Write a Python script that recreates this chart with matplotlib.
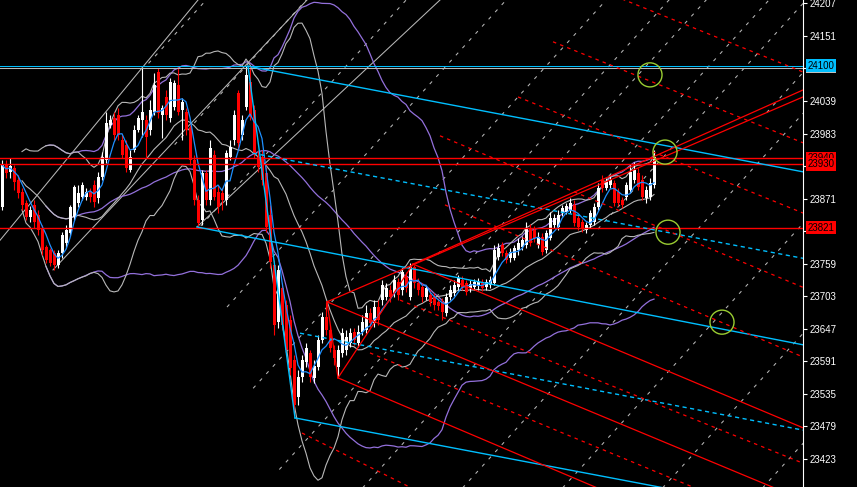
import numpy as np
import pandas as pd
import matplotlib
matplotlib.use("Agg")
import matplotlib.pyplot as plt
from matplotlib.patches import Rectangle
from matplotlib.transforms import blended_transform_factory

# ---------------- candle data (one bar every 4 px) ----------------
opens = [
    23856, 23929, 23917, 23923, 23903, 23882, 23863, 23839, 23860, 23843,
    23820, 23787, 23782, 23777, 23756, 23777, 23794, 23812, 23839, 23863,
    23874, 23874, 23882, 23894, 23872, 23908, 23937, 23998, 24010, 24015,
    23972, 23963, 23920, 23955, 23989, 24006, 24006, 23989, 24020, 24089,
    24015, 24046, 24010, 24029, 24067, 24024, 24020, 23992, 23937, 23868,
    23834, 23915, 23868, 23946, 23882, 23880, 23868, 23943, 23972, 24053,
    23980, 24029, 24072, 24024, 23943, 23943, 23915, 23843, 23756, 23658,
    23717, 23688, 23662, 23593, 23529, 23563, 23589, 23605, 23562, 23581,
    23627, 23667, 23644, 23610, 23581, 23605, 23610, 23622, 23641, 23622,
    23641, 23644, 23674, 23657, 23684, 23696, 23701, 23713, 23708, 23727,
    23713, 23736, 23701, 23753, 23725, 23719, 23701, 23705, 23701, 23693,
    23693, 23674, 23701, 23708, 23719, 23731, 23725, 23717, 23719, 23720,
    23727, 23719, 23722, 23725, 23770, 23791, 23777, 23768, 23768, 23782,
    23787, 23791, 23820, 23817, 23791, 23805, 23782, 23803, 23825, 23822,
    23846, 23848, 23851, 23860, 23837, 23831, 23817, 23825, 23831, 23856,
    23903, 23889, 23894, 23898, 23882, 23868, 23874, 23886, 23903, 23915,
    23903, 23872, 23874, 23894,
]
closes = [
    23929, 23915, 23927, 23899, 23880, 23860, 23839, 23851, 23831, 23817,
    23782, 23765, 23760, 23756, 23777, 23808, 23817, 23856, 23891, 23880,
    23894, 23882, 23874, 23865, 23908, 23943, 24001, 24006, 23980, 23980,
    23946, 23924, 23943, 23989, 24010, 24020, 23977, 24024, 24067, 24018,
    24027, 24015, 24072, 24070, 24020, 24037, 23989, 23937, 23868, 23829,
    23915, 23868, 23958, 23874, 23856, 23868, 23949, 23960, 24015, 23967,
    24006, 24084, 24011, 23949, 23925, 23903, 23822, 23762, 23653, 23748,
    23653, 23610, 23579, 23515, 23563, 23593, 23613, 23563, 23582, 23627,
    23667, 23644, 23613, 23596, 23610, 23639, 23632, 23639, 23627, 23641,
    23658, 23674, 23657, 23684, 23662, 23722, 23717, 23701, 23731, 23705,
    23744, 23717, 23753, 23725, 23713, 23701, 23717, 23693, 23688, 23686,
    23675, 23701, 23713, 23722, 23734, 23719, 23710, 23724, 23727, 23727,
    23717, 23727, 23731, 23782, 23786, 23777, 23765, 23779, 23786, 23794,
    23800, 23820, 23794, 23803, 23805, 23779, 23812, 23837, 23837, 23843,
    23855, 23858, 23863, 23829, 23822, 23820, 23825, 23846, 23856, 23889,
    23889, 23899, 23903, 23863, 23863, 23860, 23894, 23917, 23920, 23891,
    23874, 23886, 23898, 23943,
]
highs = [
    23937, 23937, 23941, 23929, 23911, 23889, 23868, 23858, 23868, 23851,
    23825, 23791, 23786, 23782, 23782, 23813, 23825, 23860, 23894, 23894,
    23899, 23889, 23889, 23903, 23917, 23951, 24020, 24015, 24020, 24027,
    23980, 23972, 23955, 23998, 24015, 24096, 24015, 24041, 24087, 24096,
    24032, 24058, 24079, 24075, 24098, 24044, 24027, 23998, 23946, 23877,
    23920, 23920, 23972, 23955, 23894, 23889, 23955, 23972, 24024, 24058,
    24015, 24099, 24099, 24032, 23955, 23955, 23925, 23860, 23765, 23756,
    23725, 23696, 23670, 23601, 23576, 23601, 23622, 23610, 23593, 23636,
    23675, 23693, 23653, 23619, 23619, 23648, 23644, 23648, 23648, 23653,
    23670, 23688, 23682, 23696, 23696, 23731, 23725, 23722, 23739, 23734,
    23751, 23744, 23760, 23756, 23734, 23725, 23722, 23713, 23708, 23700,
    23700, 23708, 23722, 23731, 23739, 23737, 23731, 23731, 23732, 23734,
    23732, 23732, 23737, 23791, 23794, 23796, 23782, 23786, 23791, 23803,
    23806, 23831, 23827, 23824, 23813, 23812, 23817, 23848, 23844, 23851,
    23860, 23863, 23872, 23868, 23844, 23836, 23831, 23851, 23863, 23898,
    23911, 23906, 23910, 23903, 23889, 23874, 23899, 23929, 23934, 23924,
    23911, 23893, 23906, 23955,
]
lows = [
    23851, 23906, 23906, 23886, 23872, 23851, 23834, 23831, 23820, 23808,
    23774, 23760, 23755, 23748, 23751, 23768, 23786, 23806, 23834, 23856,
    23868, 23868, 23865, 23856, 23863, 23903, 23932, 23992, 23972, 23972,
    23941, 23917, 23917, 23951, 23986, 23977, 23943, 23980, 24015, 24010,
    23975, 24006, 24003, 24024, 24015, 23972, 23980, 23929, 23860, 23820,
    23825, 23860, 23860, 23868, 23846, 23851, 23860, 23937, 23963, 23955,
    23972, 24024, 24006, 23941, 23917, 23894, 23813, 23751, 23636, 23648,
    23644, 23601, 23567, 23503, 23515, 23555, 23581, 23555, 23553, 23576,
    23622, 23636, 23607, 23584, 23563, 23598, 23601, 23615, 23619, 23615,
    23636, 23639, 23650, 23650, 23653, 23688, 23696, 23693, 23701, 23696,
    23705, 23710, 23696, 23717, 23705, 23693, 23696, 23686, 23679, 23679,
    23662, 23669, 23696, 23703, 23713, 23713, 23705, 23710, 23713, 23713,
    23712, 23713, 23717, 23722, 23765, 23772, 23760, 23762, 23765, 23774,
    23782, 23786, 23789, 23796, 23786, 23774, 23777, 23800, 23820, 23817,
    23841, 23844, 23846, 23824, 23817, 23813, 23812, 23820, 23825, 23851,
    23882, 23886, 23889, 23858, 23858, 23855, 23868, 23880, 23898, 23886,
    23868, 23863, 23868, 23889,
]

# ---------------- price scale ----------------
price_ticks = [24207, 24151, 24095, 24039, 23983, 23927, 23871, 23815,
               23759, 23703, 23647, 23591, 23535, 23479, 23423]
hidden_ticks = [24095, 23927, 23815]   # covered by the level labels
y_range = (23374, 24213)
x_range = (-0.5, 200.25)

# horizontal levels
cyan_level = 24100
grey_level = 24096
red_levels = [23940, 23930, 23821]
red_level_text = ['23940', '23930', '23821']

# ---------------- objects: (bar, price) anchors ----------------
cyan_solid = [((61.5, 24099), (200.25, 23917)),
              ((48.75, 23822), (200.25, 23619)),
              ((73.25, 23493), (200.25, 23327)),
              ((61.5, 24099), (73.25, 23493))]
cyan_dash = [((62.75, 23949), (200.25, 23768)),
             ((74.5, 23639), (200.25, 23472))]
red_solid = [((81.25, 23693), (200.25, 24046)),
             ((102.75, 23758), (200.25, 24058)),
             ((81.25, 23693), (84.0, 23562)),
             ((84.0, 23562), (102.75, 23758)),
             ((102.75, 23758), (200.25, 23476)),
             ((81.25, 23693), (200.25, 23352)),
             ((84.0, 23562), (200.25, 23222))]
red_dash = [((149.5, 24230), (200.25, 24089)),
            ((137.75, 24141), (200.25, 23967)),
            ((129.0, 24046), (200.25, 23846)),
            ((109.5, 23979), (200.25, 23718)),
            ((110.75, 23860), (200.25, 23598)),
            ((99.5, 23696), (200.25, 23415)),
            ((75.0, 23467), (112.0, 23339)),
            ((92.0, 23605), (200.25, 23295))]
grey_solid = [((-0.5, 23799), (49.0, 24213)),
              ((12.75, 23748), (76.25, 24213)),
              ((48.75, 23822), (109.5, 24213))]
# Gann-style grid (dashed grey)
grid_price = 23684
grid_anchor_bar = 56.25
grid_step = 25.0
grid_slope = 7.58          # price per bar
grid_edge_slope = -21.4    # boundary where grid lines begin
grid_b_price = 23925
grid_b_bar = 153.75
circles = [(162.0, 24084), (165.75, 23951), (166.5, 23813), (180.0, 23658)]

# ---------------- figure ----------------
plt.rcParams['lines.scale_dashes'] = False
fig = plt.figure(figsize=(8.57, 4.87), dpi=100, facecolor='black')
ax = fig.add_axes([0, 0, 803 / 857, 1], facecolor='black')
ax.set_xlim(*x_range)
ax.set_ylim(*y_range)

RED = '#ff0000'
CYAN = '#00bfff'
GREY = '#b8b8b8'
PURPLE = '#9370db'
BLUE = '#1e90ff'
lw = 0.75

# grid family A
for k in range(-3, 8):
    b0 = grid_anchor_bar + grid_step * k
    bs = (grid_slope * b0 - grid_edge_slope * grid_anchor_bar) / (grid_slope - grid_edge_slope)
    be = b0 + (24300 - grid_price) / grid_slope
    ax.plot([bs, be], [grid_price + grid_slope * (bs - b0), grid_price + grid_slope * (be - b0)],
            color=GREY, lw=lw, ls=(0, (2.5, 4.5)), zorder=2)
# grid family B (starts on the rising red line)
r_slope = (24046 - 23693) / (200.25 - 81.25)
for k in range(-1, 3):
    c = grid_b_bar + grid_step * k
    bs = (grid_slope * c - grid_b_price + 23693 - r_slope * 81.25) / (grid_slope - r_slope)
    bs = max(bs, 81.25)
    be = c + (24300 - grid_b_price) / grid_slope
    ax.plot([bs, be], [grid_b_price + grid_slope * (bs - c), grid_b_price + grid_slope * (be - c)],
            color=GREY, lw=lw, ls=(0, (2.5, 4.5)), zorder=2)

for (a, b) in grey_solid:
    ax.plot([a[0], b[0]], [a[1], b[1]], color=GREY, lw=lw, zorder=3)

# indicators
s = pd.Series(closes, dtype=float)
xb = np.arange(len(s))
ma = s.rolling(5, min_periods=1).mean()
m20 = s.rolling(20, min_periods=6).mean()
sd20 = s.rolling(20, min_periods=6).std(ddof=0)
m50 = s.rolling(50, min_periods=12).mean()
sd50 = s.rolling(50, min_periods=12).std(ddof=0)
for ser in (m50 + 2 * sd50, m50, m50 - 2 * sd50):
    ax.plot(xb, ser, color=PURPLE, lw=0.9, zorder=4)
for ser in (m20 + 2 * sd20, m20, m20 - 2 * sd20):
    ax.plot(xb, ser, color=GREY, lw=0.8, zorder=4)

# candles
o = np.array(opens, float); cl = np.array(closes, float)
hi = np.array(highs, float); lo = np.array(lows, float)
cols = np.where(cl >= o, 'white', RED)
ax.vlines(xb, lo, hi, colors=cols, lw=0.8, zorder=5)
ax.bar(xb, np.maximum(np.abs(cl - o), 1.2), bottom=np.minimum(o, cl), width=0.75,
       color=cols, linewidth=0, zorder=6)

ax.plot(xb, ma, color=BLUE, lw=0.9, zorder=7)

# horizontal levels
ax.axhline(grey_level, color=GREY, lw=lw, zorder=8)
ax.axhline(cyan_level, color=CYAN, lw=lw, zorder=8)
for lv in red_levels:
    ax.axhline(lv, color=RED, lw=1.0, zorder=8)

for (a, b) in cyan_solid:
    ax.plot([a[0], b[0]], [a[1], b[1]], color=CYAN, lw=1.0, zorder=8)
for (a, b) in cyan_dash:
    ax.plot([a[0], b[0]], [a[1], b[1]], color=CYAN, lw=1.0, ls=(0, (3, 2.5)), zorder=8)
for (a, b) in red_solid:
    ax.plot([a[0], b[0]], [a[1], b[1]], color=RED, lw=0.9, zorder=8)
for (a, b) in red_dash:
    ax.plot([a[0], b[0]], [a[1], b[1]], color=RED, lw=0.9, ls=(0, (2.5, 3)), zorder=8)

cx, cy = zip(*circles)
ax.scatter(cx, cy, s=300, facecolors='none', edgecolors='#9acd32', linewidths=1.0, zorder=9)

# axes styling
for sp in ('left', 'top', 'bottom'):
    ax.spines[sp].set_visible(False)
ax.spines['right'].set_color('white')
ax.spines['right'].set_linewidth(0.8)
ax.set_xticks([])
ax.yaxis.tick_right()
ax.set_yticks(price_ticks)
ax.set_yticklabels(['' if t in hidden_ticks else str(t) for t in price_ticks])
ax.tick_params(axis='y', colors='white', length=3, width=0.8, pad=2,
               labelsize=7, labelcolor='white')
for t in ax.get_yticklabels():
    t.set_fontfamily('Liberation Sans')

trans = blended_transform_factory(ax.transAxes, ax.transData)
# grey level marker peeking out below the cyan one
ax.add_patch(Rectangle((1.0037, 24088), 0.0375, 9, transform=trans, facecolor='#c0c0c0',
                       edgecolor='none', clip_on=False, zorder=19))

def label(price, text, fc):
    ax.text(1.0055, price, text, transform=trans, ha='left', va='center',
            fontsize=7, family='Liberation Sans', color='black', clip_on=False, zorder=20,
            bbox=dict(facecolor=fc, edgecolor='none', pad=1.2))

label(cyan_level, '24100', CYAN)
for lv, txt in zip(red_levels, red_level_text):
    label(lv, txt, RED)

fig.savefig('out.png', dpi=100, facecolor='black')
